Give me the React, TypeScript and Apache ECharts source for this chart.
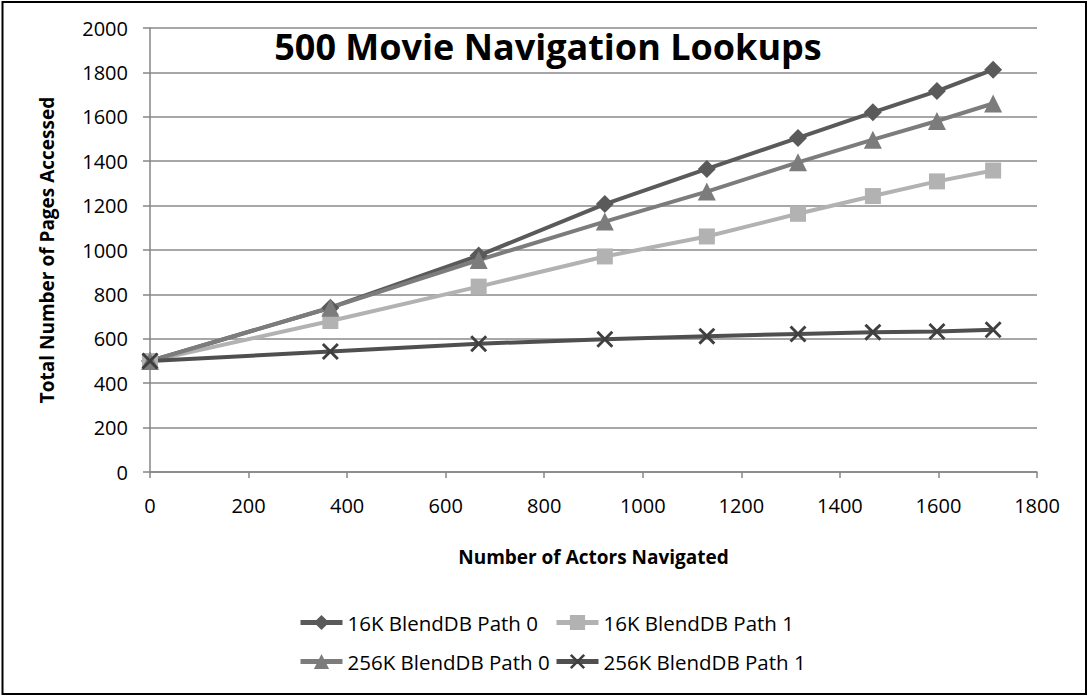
import React, { useEffect, useRef } from "react";
import * as echarts from "echarts";

const actorsNavigated = [0, 366, 667, 923, 1130, 1315, 1467, 1597, 1711];
const path0_16K = [500, 740, 975, 1207, 1365, 1505, 1620, 1716, 1812];
const path1_16K = [500, 680, 835, 971, 1061, 1163, 1243, 1309, 1358];
const path0_256K = [500, 740, 955, 1128, 1263, 1395, 1497, 1581, 1660];
const path1_256K = [500, 543, 578, 598, 612, 622, 630, 633, 641];
const seriesNames = ["16K BlendDB Path 0", "16K BlendDB Path 1", "256K BlendDB Path 0", "256K BlendDB Path 1"];
const seriesColors = ["#5a5a5a", "#b2b2b2", "#7c7c7c", "#4f4f4f"];
const seriesValues = [path0_16K, path1_16K, path0_256K, path1_256K];

const FONT = "'Open Sans', sans-serif";
const X_SYMBOL = "path://M0,1.2L1.2,0L5,3.8L8.8,0L10,1.2L6.2,5L10,8.8L8.8,10L5,6.2L1.2,10L0,8.8L3.8,5Z";
const symbols = ["diamond", "rect", "triangle", X_SYMBOL];
const symbolSizes = [18, 16, 18, 17];

export default function App() {
  const ref = useRef<HTMLDivElement>(null);
  useEffect(() => {
    if (!ref.current) return;
    const chart = echarts.init(ref.current, null, { renderer: "svg" });
    const series = seriesNames.map((name, i) => ({
      name,
      type: "line",
      data: actorsNavigated.map((x, j) => [x, seriesValues[i][j]]),
      symbol: symbols[i],
      symbolSize: symbolSizes[i],
      lineStyle: { width: 4, color: seriesColors[i] },
      itemStyle: { color: i === 3 ? "#3f3f3f" : seriesColors[i] },
      color: seriesColors[i],
    }));
    const legendPos = [
      { left: 298, top: 612 },
      { left: 554, top: 612 },
      { left: 298, top: 651 },
      { left: 554, top: 651 },
    ];
    chart.setOption({
      animation: false,
      backgroundColor: "#ffffff",
      grid: { left: 150, right: 51, top: 28, bottom: 224 },
      xAxis: {
        type: "value",
        min: 0,
        max: 1800,
        interval: 200,
        name: "Number of Actors Navigated",
        nameLocation: "middle",
        nameGap: 75,
        nameTextStyle: { fontFamily: FONT, fontWeight: "bold", fontSize: 19, color: "#000" },
        axisLine: { show: true, lineStyle: { color: "#868686", width: 1.5 } },
        axisTick: { show: true, length: 6, lineStyle: { color: "#868686", width: 1.5 } },
        axisLabel: { fontFamily: FONT, fontSize: 20, color: "#000", margin: 23, formatter: (v: number) => String(v) },
        splitLine: { show: false },
      },
      yAxis: {
        type: "value",
        min: 0,
        max: 2000,
        interval: 200,
        name: "Total Number of Pages Accessed",
        nameLocation: "middle",
        nameGap: 94,
        nameTextStyle: { fontFamily: FONT, fontWeight: "bold", fontSize: 19, color: "#000" },
        axisLine: { show: true, lineStyle: { color: "#868686", width: 1.5 } },
        axisTick: { show: true, length: 7, lineStyle: { color: "#868686", width: 1.5 } },
        axisLabel: { fontFamily: FONT, fontSize: 20, color: "#000", margin: 22, formatter: (v: number) => String(v) },
        splitLine: { show: true, lineStyle: { color: "#8a8a8a", width: 1.5 } },
      },
      legend: seriesNames.map((name, i) => ({
        data: [name],
        left: legendPos[i].left,
        top: legendPos[i].top,
        padding: 0,
        itemWidth: 42,
        itemHeight: 19,
        lineStyle: { width: 5 },
        textStyle: { fontFamily: FONT, fontSize: 20.5, color: "#000" },
      })),
      graphic: [
        {
          type: "text",
          x: 548,
          y: 46,
          style: {
            text: "500 Movie Navigation Lookups",
            font: `bold 36px ${FONT}`,
            fill: "#000",
            textAlign: "center",
            textVerticalAlign: "middle",
          },
        },
        {
          type: "rect",
          shape: { x: 2.5, y: 2, width: 1083.5, height: 692 },
          style: { fill: "none", stroke: "#000", lineWidth: 2 },
          silent: true,
        },
      ],
      series,
    });
    return () => chart.dispose();
  }, []);
  return (
    <div
      ref={ref}
      style={{ position: "fixed", left: 0, top: 0, width: 1088, height: 696, background: "#fff" }}
    />
  );
}
